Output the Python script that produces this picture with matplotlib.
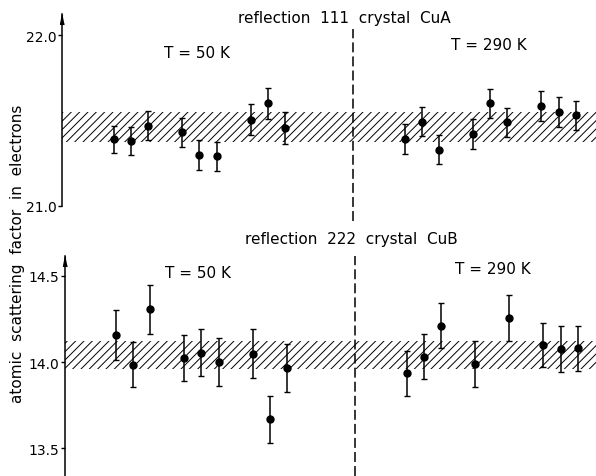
import matplotlib
matplotlib.use("Agg")
import matplotlib.pyplot as plt
from matplotlib.transforms import offset_copy

plt.rcParams['font.family'] = 'DejaVu Sans'
plt.rcParams['hatch.linewidth'] = 0.7

# measurement slots (groups of three with an empty slot between groups)
slots_50k = [0, 1, 2, 4, 5, 6, 8, 9, 10]
slots_290k_a = [17, 18, 19, 21, 22, 23, 25, 26, 27]
slots_290k_b = [17, 18, 19, 21, 23, 25, 26, 27]

# reflection 111, crystal CuA
f111_50k = [21.39, 21.38, 21.47, 21.43, 21.30, 21.29, 21.505, 21.60, 21.455]
e111_50k = [0.078, 0.083, 0.085, 0.086, 0.088, 0.086, 0.092, 0.091, 0.092]
f111_290k = [21.392, 21.493, 21.329, 21.421, 21.60, 21.49, 21.587, 21.55, 21.53]
e111_290k = [0.09, 0.086, 0.085, 0.09, 0.085, 0.085, 0.087, 0.086, 0.087]
band_111 = (21.375, 21.55)

# reflection 222, crystal CuB
f222_50k = [14.16, 13.984, 14.306, 14.025, 14.055, 14.0, 14.049, 13.667, 13.966]
e222_50k = [0.145, 0.13, 0.143, 0.134, 0.137, 0.14, 0.143, 0.138, 0.138]
f222_290k = [13.935, 14.032, 14.212, 13.99, 14.255, 14.101, 14.078, 14.08]
e222_290k = [0.131, 0.131, 0.132, 0.133, 0.133, 0.127, 0.134, 0.131]
band_222 = (13.96, 14.12)

divider_slot = 14

W, H = 596, 477
fig = plt.figure(figsize=(W / 100, H / 100), dpi=100)
ax1 = fig.add_axes([62 / W, 1 - 207 / H, 534 / W, 192 / H])
ax2 = fig.add_axes([65 / W, 0, 531 / W, 220 / H])


def draw_panel(ax, band, groups, ylim, xlim, ticks, labels, divider):
    ax.set_xlim(*xlim)
    ax.set_ylim(*ylim)
    ax.axhspan(band[0], band[1], facecolor='none', edgecolor='black',
               hatch='////', linewidth=0)
    for xs, ys, es in groups:
        ax.errorbar(xs, ys, yerr=es, fmt='o', color='black', ms=5,
                    elinewidth=1.1, capsize=2.3, capthick=1.0)
    ax.plot([divider_slot, divider_slot], divider, color='black', lw=1.1,
            ls=(0, (6.5, 2.7)), clip_on=False)
    for side in ['top', 'right', 'bottom']:
        ax.spines[side].set_visible(False)
    ax.spines['left'].set_linewidth(1.1)
    ax.set_xticks([])
    ax.set_yticks(ticks)
    ax.set_yticklabels(labels)
    ax.tick_params(axis='y', direction='out', length=3, width=1,
                   labelsize=10, pad=1)
    # arrow head on top of the y axis
    tr = offset_copy(ax.transAxes, fig=fig, y=-3.6, units='points')
    ax.plot(0, 1, marker=[(0, 1), (-0.4, -1), (0.4, -1)], ms=7,
            color='black', transform=tr, clip_on=False)


draw_panel(ax1, band_111,
           [(slots_50k, f111_50k, e111_50k),
            (slots_290k_a, f111_290k, e111_290k)],
           (21.0, 22.123), (-3.04, 28.19),
           [21.0, 22.0], ['21.0', '22.0'], (20.91, 22.035))

draw_panel(ax2, band_222,
           [(slots_50k, f222_50k, e222_50k),
            (slots_290k_b, f222_290k, e222_290k)],
           (13.339, 14.616), (-2.98, 28.07),
           [13.5, 14.0, 14.5], ['13.5', '14.0', '14.5'], (13.339, 14.616))

fig.text(344 / W, 1 - 19 / H, 'reflection  111  crystal  CuA',
         ha='center', va='center', fontsize=11)
fig.text(351 / W, 1 - 240 / H, 'reflection  222  crystal  CuB',
         ha='center', va='center', fontsize=11)
fig.text(197 / W, 1 - 53 / H, 'T = 50 K', ha='center', va='center', fontsize=11)
fig.text(489 / W, 1 - 46 / H, 'T = 290 K', ha='center', va='center', fontsize=11)
fig.text(198 / W, 1 - 274 / H, 'T = 50 K', ha='center', va='center', fontsize=11)
fig.text(493 / W, 1 - 270 / H, 'T = 290 K', ha='center', va='center', fontsize=11)
fig.text(18 / W, 1 - 254 / H, 'atomic  scattering  factor  in  electrons',
         rotation=90, ha='center', va='center', fontsize=11)

fig.savefig('out.png', dpi=100)
